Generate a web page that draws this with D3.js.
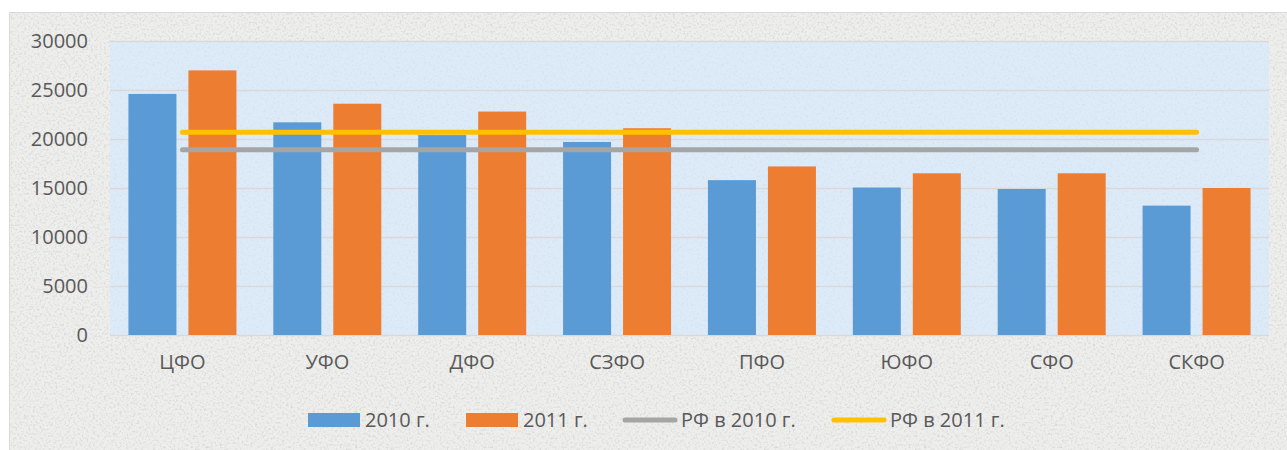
<!DOCTYPE html>
<html>
<head>
<meta charset="utf-8">
<script src="https://cdn.jsdelivr.net/npm/d3@7"></script>
<style>
  body { margin: 0; background: #fff; }
  text { font-family: "Open Sans", "Noto Sans", sans-serif; fill: #595959; }
</style>
</head>
<body>
<div id="container"></div>
<script>
const categories = ['ЦФО', 'УФО', 'ДФО', 'СЗФО', 'ПФО', 'ЮФО', 'СФО', 'СКФО'];
const series = ['2010 г.', '2011 г.'];
const values2010 = [24600, 21700, 20400, 19700, 15800, 15050, 14900, 13200];
const values2011 = [27000, 23600, 22800, 21100, 17200, 16500, 16500, 15000];
const rf2010 = 18900;
const rf2011 = 20700;
const yTicks = [0, 5000, 10000, 15000, 20000, 25000, 30000];

const w = 1287, h = 450;
const plot = {left: 110, right: 1269, top: 41, bottom: 335};
const colors = {'2010 г.': '#5b9bd5', '2011 г.': '#ed7d31', line2010: '#a5a5a5', line2011: '#ffc000'};
const fs = 20;

const svg = d3.select('#container').append('svg')
    .attr('width', w).attr('height', h);

// paper-like texture
const defs = svg.append('defs');
const f = defs.append('filter').attr('id', 'noise')
    .attr('x', 0).attr('y', 0).attr('width', '100%').attr('height', '100%');
f.append('feTurbulence').attr('type', 'fractalNoise').attr('baseFrequency', 0.45)
    .attr('numOctaves', 3).attr('seed', 7).attr('result', 't');
f.append('feColorMatrix').attr('type', 'matrix')
    .attr('values', '0 0 0 0 0.45  0 0 0 0 0.45  0 0 0 0 0.45  2.2 0 0 0 -1.05');

// chart area
svg.append('rect').attr('x', 9.5).attr('y', 12.5).attr('width', w - 6).attr('height', h)
    .attr('fill', '#eeeeec').attr('stroke', '#d9d9d9');
svg.append('rect').attr('x', 10).attr('y', 13).attr('width', w - 10).attr('height', h - 13)
    .attr('filter', 'url(#noise)').attr('opacity', 0.45);

// plot area
svg.append('rect').attr('x', plot.left).attr('y', plot.top)
    .attr('width', plot.right - plot.left).attr('height', plot.bottom - plot.top)
    .attr('fill', '#ddebf9');
svg.append('rect').attr('x', plot.left).attr('y', plot.top)
    .attr('width', plot.right - plot.left).attr('height', plot.bottom - plot.top)
    .attr('filter', 'url(#noise)').attr('opacity', 0.2);

const x0 = d3.scaleBand().domain(categories).range([plot.left, plot.right]);
const x1 = d3.scaleBand().domain(series).range([0, 108]).paddingInner(0.2);
const off = (x0.bandwidth() - 108) / 2;
const y = d3.scaleLinear().domain([0, 30000]).range([plot.bottom, plot.top]);

// gridlines
svg.append('g').selectAll('line').data(yTicks).enter().append('line')
    .attr('x1', plot.left).attr('x2', plot.right)
    .attr('y1', d => Math.round(y(d)) + 0.5).attr('y2', d => Math.round(y(d)) + 0.5)
    .attr('stroke', '#d9d9d9').attr('stroke-width', 1.5);

// y axis labels
const yAxis = d3.axisLeft(y).tickValues(yTicks).tickSize(0).tickPadding(0).tickFormat(d3.format('d'));
svg.append('g').attr('transform', 'translate(88,0)').call(yAxis)
    .call(g => g.select('.domain').remove())
    .selectAll('text').attr('font-size', fs).attr('fill', '#595959')
    .attr('font-family', '"Open Sans", sans-serif');

// x axis labels
const xAxis = d3.axisBottom(x0).tickSize(0).tickPadding(0);
svg.append('g').attr('transform', 'translate(0,' + 355 + ')').call(xAxis)
    .call(g => g.select('.domain').remove())
    .selectAll('text').attr('font-size', fs).attr('fill', '#595959')
    .attr('font-family', '"Open Sans", sans-serif');

// bars
const rows = categories.map((c, i) => ({cat: c, vals: [values2010[i], values2011[i]]}));
const grp = svg.append('g').selectAll('g').data(rows).enter().append('g')
    .attr('transform', d => 'translate(' + (x0(d.cat) + off) + ',0)');
grp.selectAll('rect').data(d => series.map((s, j) => ({s: s, v: d.vals[j]}))).enter().append('rect')
    .attr('x', d => x1(d.s))
    .attr('y', d => y(d.v))
    .attr('width', x1.bandwidth())
    .attr('height', d => y(0) - y(d.v))
    .attr('fill', d => colors[d.s]);

// average lines
const lx1 = x0(categories[0]) + x0.bandwidth() / 2;
const lx2 = x0(categories[categories.length - 1]) + x0.bandwidth() / 2;
[[rf2010, colors.line2010], [rf2011, colors.line2011]].forEach(([v, c]) => {
    svg.append('line').attr('x1', lx1).attr('x2', lx2)
        .attr('y1', y(v)).attr('y2', y(v))
        .attr('stroke', c).attr('stroke-width', 5).attr('stroke-linecap', 'round');
});

// legend
const legend = svg.append('g').attr('id', 'legend');
const ly = 420;
legend.append('rect').attr('x', 308).attr('y', 413).attr('width', 52).attr('height', 14).attr('fill', colors['2010 г.']);
legend.append('text').attr('x', 365).attr('y', 427).attr('font-size', fs).text('2010 г.');
legend.append('rect').attr('x', 466).attr('y', 413).attr('width', 52).attr('height', 14).attr('fill', colors['2011 г.']);
legend.append('text').attr('x', 523).attr('y', 427).attr('font-size', fs).text('2011 г.');
legend.append('line').attr('x1', 625).attr('x2', 675).attr('y1', ly).attr('y2', ly)
    .attr('stroke', colors.line2010).attr('stroke-width', 5).attr('stroke-linecap', 'round');
legend.append('text').attr('x', 681).attr('y', 427).attr('font-size', fs).text('РФ в 2010 г.');
legend.append('line').attr('x1', 834).attr('x2', 884).attr('y1', ly).attr('y2', ly)
    .attr('stroke', colors.line2011).attr('stroke-width', 5).attr('stroke-linecap', 'round');
legend.append('text').attr('x', 890).attr('y', 427).attr('font-size', fs).text('РФ в 2011 г.');
</script>
</body>
</html>
